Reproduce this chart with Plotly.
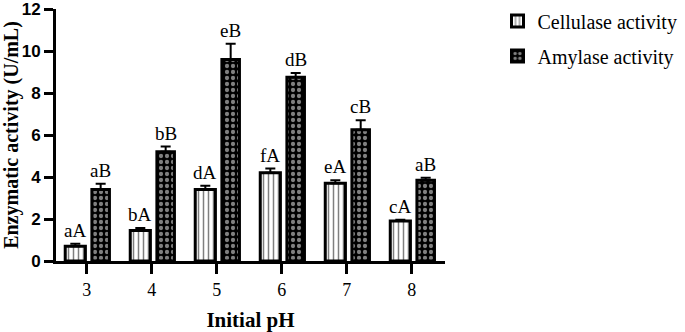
import plotly.graph_objects as go

ph = [3, 4, 5, 6, 7, 8]
cellulase = [0.7, 1.45, 3.4, 4.2, 3.7, 1.9]
cellulase_err = [0.12, 0.12, 0.18, 0.2, 0.15, 0.07]
amylase = [3.4, 5.2, 9.6, 8.75, 6.25, 3.85]
amylase_err = [0.28, 0.25, 0.75, 0.2, 0.45, 0.12]
cell_labels = ["aA", "bA", "dA", "fA", "eA", "cA"]
amy_labels = ["aB", "bB", "eB", "dB", "cB", "aB"]

SERIF = "Liberation Serif, Times New Roman, serif"
SANS = "Liberation Sans, Arial, sans-serif"

c_off, c_w = -0.33, 0.31
a_off, a_w = 0.08, 0.27

fig = go.Figure()
fig.add_trace(go.Bar(
    x=ph, y=cellulase, name="Cellulase activity", legendgroup="c",
    offset=c_off, width=c_w,
    marker=dict(color="white", line=dict(color="black", width=3),
                pattern=dict(shape="|", fgcolor="black", bgcolor="white", size=5, solidity=0.3)),
    error_y=dict(type="data", array=cellulase_err, arrayminus=[0]*6, symmetric=False,
                 color="black", thickness=2, width=5),
))
fig.add_trace(go.Bar(
    x=ph, y=amylase, name="Amylase activity", legendgroup="a",
    offset=a_off, width=a_w,
    marker=dict(color="black", line=dict(color="black", width=3),
                pattern=dict(shape=".", fgcolor="white", bgcolor="black", size=6, solidity=0.4)),
    error_y=dict(type="data", array=amylase_err, arrayminus=[0]*6, symmetric=False,
                 color="black", thickness=2, width=5),
))

for xi, v, e, t in zip(ph, cellulase, cellulase_err, cell_labels):
    fig.add_annotation(x=xi + c_off + c_w / 2, y=v + e, text=t, showarrow=False,
                       yanchor="bottom", yshift=1, font=dict(family=SERIF, size=19, color="black"))
for xi, v, e, t in zip(ph, amylase, amylase_err, amy_labels):
    fig.add_annotation(x=xi + a_off + a_w / 2, y=v + e, text=t, showarrow=False,
                       yanchor="bottom", yshift=1, font=dict(family=SERIF, size=19, color="black"))

fig.update_layout(
    width=685, height=332,
    margin=dict(l=56, r=240, t=9, b=71, autoexpand=False),
    paper_bgcolor="white", plot_bgcolor="white",
    barmode="overlay",
    showlegend=True,
    legend=dict(x=1.135, y=1.03, xanchor="left", yanchor="top",
                font=dict(family=SERIF, size=20, color="black"),
                tracegroupgap=6, bgcolor="rgba(0,0,0,0)"),
    xaxis=dict(range=[2.528, 8.512], tickvals=ph, ticktext=[str(p) for p in ph],
               automargin=False,
               showline=True, linecolor="black", linewidth=3,
               ticks="outside", ticklen=10, tickwidth=2.5, tickcolor="black",
               showgrid=False, zeroline=False,
               tickfont=dict(family=SERIF, size=18, color="black"),
               title=dict(text="<b>Initial pH</b>", font=dict(family=SERIF, size=21, color="black"), standoff=14)),
    yaxis=dict(range=[0, 12], tickvals=[0, 2, 4, 6, 8, 10, 12],
               automargin=False, ticklabeloverflow="allow",
               showline=True, linecolor="black", linewidth=3,
               ticks="outside", ticklen=9, tickwidth=2.5, tickcolor="black",
               showgrid=False, zeroline=False,
               tickfont=dict(family=SANS, size=17, color="black", weight="bold"),
               title=dict(text="<b>Enzymatic activity (U/mL)</b>", font=dict(family=SERIF, size=20, color="black"), standoff=4)),
)

fig.write_html("out.html", config={"displayModeBar": False},
               post_script="document.body.style.margin='0';document.body.style.overflow='hidden';")
